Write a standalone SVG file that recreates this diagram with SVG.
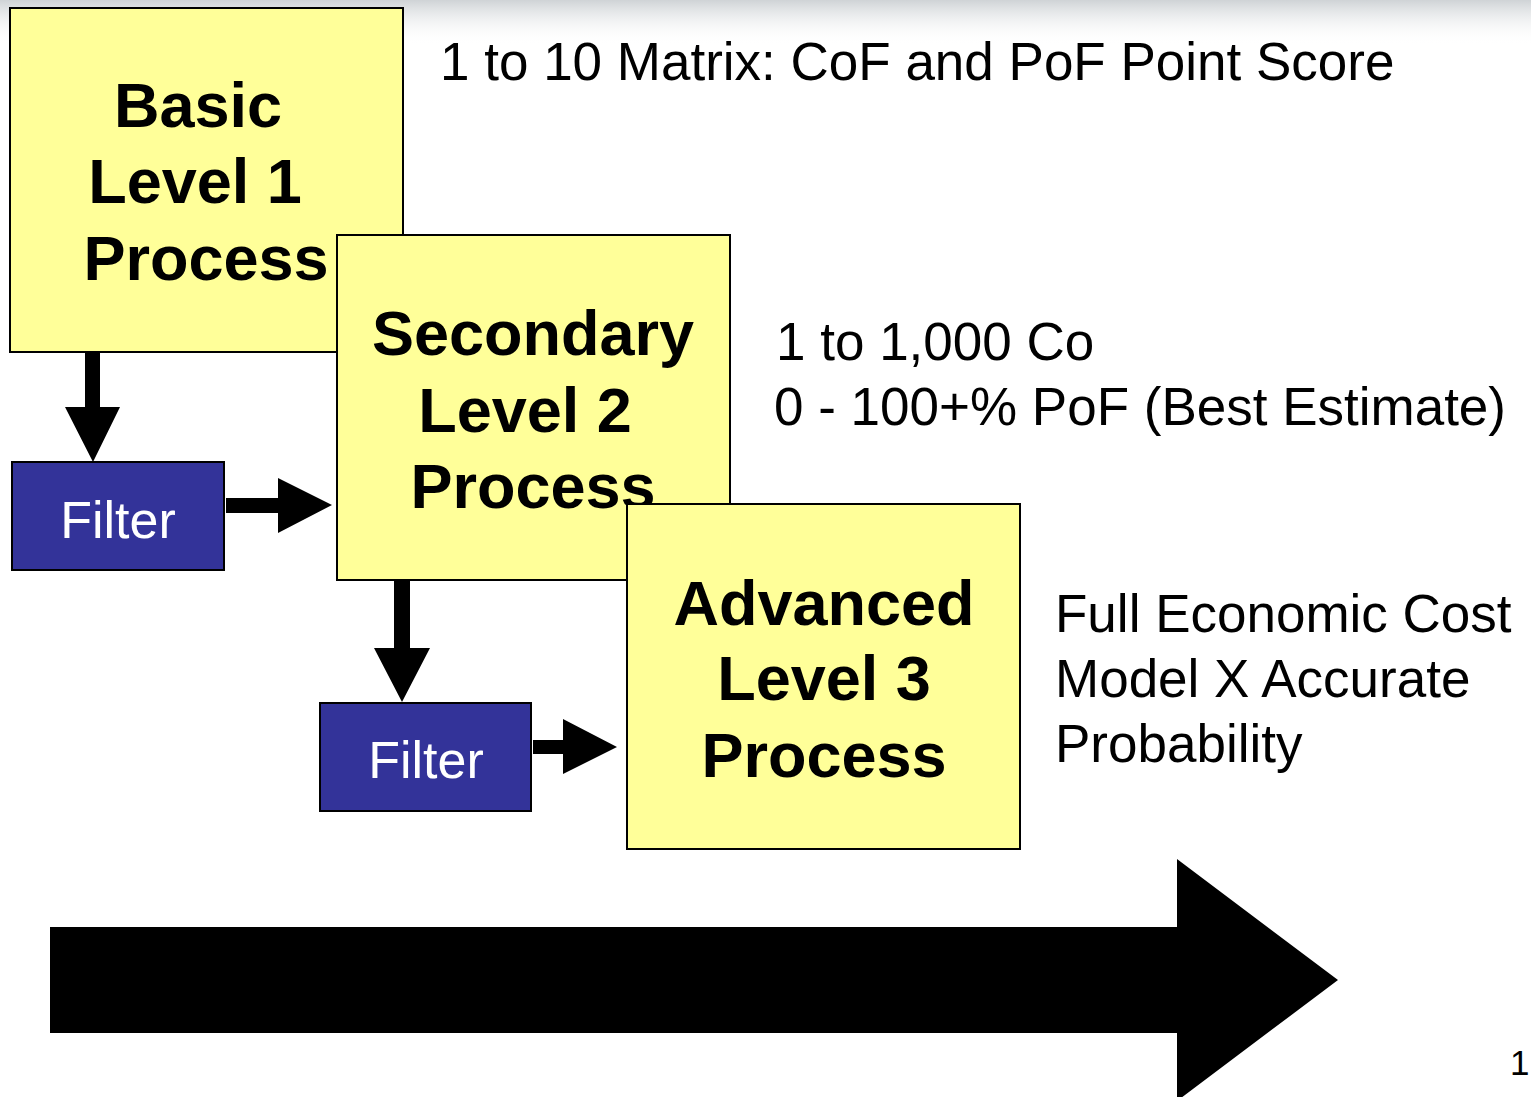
<svg xmlns="http://www.w3.org/2000/svg" width="1531" height="1097" viewBox="0 0 1531 1097">
<defs>
<linearGradient id="topg" x1="0" y1="0" x2="0" y2="1">
<stop offset="0" stop-color="#cfd3d6"/>
<stop offset="1" stop-color="#ffffff" stop-opacity="0"/>
</linearGradient>
<style>
.box{fill:#ffff99;stroke:#000;stroke-width:2}
.flt{fill:#333399;stroke:#000;stroke-width:2}
.bt{font-family:"Liberation Sans",Arial,sans-serif;font-weight:bold;font-size:63px;fill:#000;text-anchor:middle}
.ft{font-family:"Liberation Sans",Arial,sans-serif;font-size:52px;fill:#fff;text-anchor:middle}
.rt{font-family:"Liberation Sans",Arial,sans-serif;font-size:53px;fill:#000}
.arr{fill:#000}
</style>
</defs>
<rect width="1531" height="1097" fill="#fff"/>
<rect x="0" y="0" width="1531" height="45" fill="url(#topg)"/>

<g id="connectors">
<polygon class="arr" points="85,352 100,352 100,407 120,407 93,462 65,407 85,407"/>
<polygon class="arr" points="226,498 278,498 278,478 332,505 278,533 278,513 226,513"/>
<polygon class="arr" points="394,580 410,580 410,648 430,648 402,702 374,648 394,648"/>
<polygon class="arr" points="533,740 563,740 563,719 617,747 563,774 563,754 533,754"/>
</g>

<g id="basic">
<rect class="box" x="10" y="8" width="393" height="344"/>
<text class="bt" x="198" y="127">Basic</text>
<text class="bt" x="195" y="203">Level 1</text>
<text class="bt" x="206" y="280">Process</text>
</g>

<g id="filter1">
<rect class="flt" x="12" y="462" width="212" height="108"/>
<text class="ft" x="118" y="538">Filter</text>
</g>

<g id="secondary">
<rect class="box" x="337" y="235" width="393" height="345"/>
<text class="bt" x="533" y="355">Secondary</text>
<text class="bt" x="525" y="432">Level 2</text>
<text class="bt" x="533" y="508">Process</text>
</g>

<g id="filter2">
<rect class="flt" x="320" y="703" width="211" height="108"/>
<text class="ft" x="426" y="778">Filter</text>
</g>

<g id="advanced">
<rect class="box" x="627" y="504" width="393" height="345"/>
<text class="bt" x="824" y="625">Advanced</text>
<text class="bt" x="824" y="700">Level 3</text>
<text class="bt" x="824" y="777">Process</text>
</g>

<g id="labels">
<text class="rt" x="440" y="80">1 to 10 Matrix: CoF and PoF Point Score</text>
<text class="rt" x="776" y="360">1 to 1,000 Co</text>
<text class="rt" x="774" y="425">0 - 100+% PoF (Best Estimate)</text>
<text class="rt" x="1055" y="632">Full Economic Cost</text>
<text class="rt" x="1055" y="697">Model X Accurate</text>
<text class="rt" x="1055" y="762">Probability</text>
<text x="1510" y="1075" style="font-family:'Liberation Sans',Arial,sans-serif;font-size:35px;fill:#000">1</text>
</g>

<g id="progress-arrow">
<polygon class="arr" points="50,927 1177,927 1177,859 1338,980 1177,1101 1177,1033 50,1033"/>
</g>
</svg>
